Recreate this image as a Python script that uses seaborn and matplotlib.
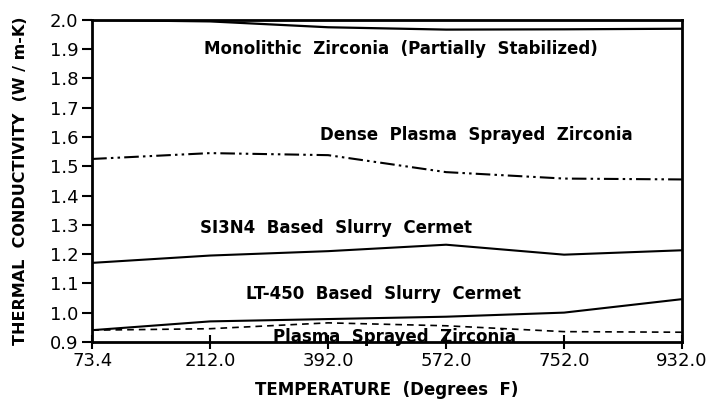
import numpy as np
import pandas as pd
import seaborn as sns
import matplotlib.pyplot as plt

temps = ["73.4", "212.0", "392.0", "572.0", "752.0", "932.0"]
monolithic = [2.0, 1.995, 1.975, 1.967, 1.968, 1.97]
dense_plasma = [1.525, 1.545, 1.538, 1.48, 1.458, 1.455]
si3n4 = [1.17, 1.195, 1.21, 1.232, 1.198, 1.213]
lt450 = [0.94, 0.97, 0.978, 0.986, 1.0, 1.046]
plasma = [0.94, 0.945, 0.965, 0.955, 0.935, 0.933]

sns.set_style("ticks")
plt.rcParams['font.family'] = ['DejaVu Sans']
plt.rcParams['text.color'] = 'black'
plt.rcParams['axes.labelcolor'] = 'black'
plt.rcParams['xtick.color'] = 'black'
plt.rcParams['ytick.color'] = 'black'

fig = plt.figure(figsize=(7.09, 4.07), dpi=100)
ax = fig.add_axes([0.13, 0.16, 0.832, 0.791])

pos = np.arange(len(temps))
ink = "black"
sns.lineplot(x=pos, y=monolithic, ax=ax, color=ink, lw=1.6)
sns.lineplot(x=pos, y=dense_plasma, ax=ax, color=ink, lw=1.5,
             dashes=False).lines[-1].set_dashes([7, 2, 1.2, 2, 1.2, 2])
sns.lineplot(x=pos, y=si3n4, ax=ax, color=ink, lw=1.5)
sns.lineplot(x=pos, y=lt450, ax=ax, color=ink, lw=1.5)
sns.lineplot(x=pos, y=plasma, ax=ax, color=ink, lw=1.2).lines[-1].set_dashes([4, 3])

lbl = dict(fontsize=12, fontweight="bold", ha="center", va="center")
ax.text(2.62, 1.9, "Monolithic  Zirconia  (Partially  Stabilized)", **lbl)
ax.text(3.26, 1.607, "Dense  Plasma  Sprayed  Zirconia", **lbl)
ax.text(2.07, 1.29, "SI3N4  Based  Slurry  Cermet", **lbl)
ax.text(2.47, 1.062, "LT-450  Based  Slurry  Cermet", **lbl)
ax.text(2.56, 0.9, "Plasma  Sprayed  Zirconia", fontsize=12, fontweight="bold",
        ha="center", va="baseline", clip_on=False)

ax.set_xlim(0, 5)
ax.set_ylim(0.9, 2.0)
ax.set_xticks(pos)
ax.set_xticklabels(temps)
ax.set_yticks(np.arange(9, 21) / 10)
ax.set_yticklabels([f"{v/10:.1f}" for v in range(9, 21)])
ax.tick_params(axis="y", direction="out", length=7, width=1.5, labelsize=13, pad=3)
ax.tick_params(axis="x", direction="inout", length=10, width=1.5, labelsize=13, pad=2)
for s in ax.spines.values():
    s.set_linewidth(2)
    s.set_color(ink)

ax.set_xlabel("TEMPERATURE  (Degrees  F)", fontsize=12, fontweight="bold", labelpad=8)
ax.set_ylabel("THERMAL  CONDUCTIVITY  (W / m-K)", fontsize=11.5, fontweight="bold")
ax.yaxis.set_label_coords(-0.108, 0.5)

fig.savefig("out.png", dpi=100)
